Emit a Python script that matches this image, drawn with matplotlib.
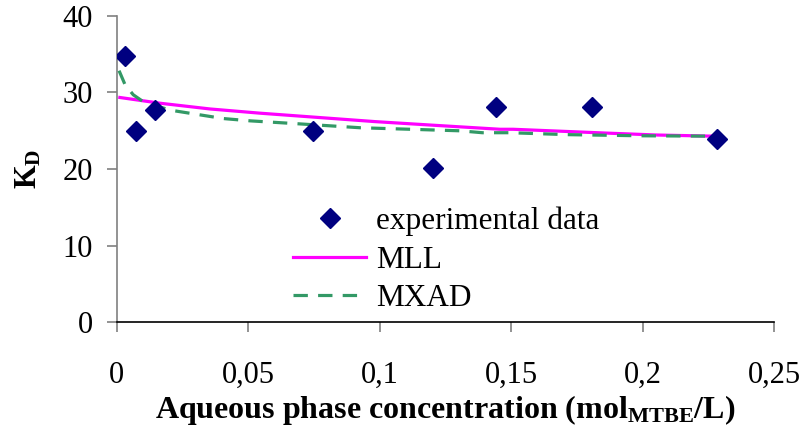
import matplotlib
matplotlib.use("Agg")
import matplotlib.pyplot as plt

plt.rcParams['font.family'] = ['Liberation Serif', 'DejaVu Serif']
plt.rcParams['mathtext.fontset'] = 'custom'
plt.rcParams['mathtext.rm'] = 'Liberation Serif'
plt.rcParams['mathtext.bf'] = 'Liberation Serif:bold'
plt.rcParams['mathtext.it'] = 'Liberation Serif:italic'

# experimental data
exp_x = [0.0032, 0.0073, 0.0147, 0.0748, 0.1204, 0.1442, 0.1806, 0.2282]
exp_y = [34.8, 25.0, 27.7, 25.0, 20.2, 28.1, 28.1, 23.9]

# MLL model
mll_x = [0.0012, 0.0165, 0.0355, 0.0545, 0.0982, 0.1217, 0.1457, 0.1507, 0.1863, 0.2053, 0.2267]
mll_y = [29.35, 28.6, 27.85, 27.3, 26.2, 25.7, 25.2, 25.2, 24.7, 24.45, 24.3]

# MXAD model
mxad_x = [0.0009, 0.0032, 0.0063, 0.0101, 0.0203, 0.0304, 0.0405, 0.0507, 0.0697, 0.0925,
          0.1115, 0.1305, 0.139, 0.1495, 0.1711, 0.199, 0.2267]
mxad_y = [32.85, 31.0, 29.7, 28.8, 27.7, 27.15, 26.6, 26.3, 25.9, 25.4,
          25.2, 25.0, 24.75, 24.75, 24.5, 24.35, 24.3]

xticks = [0, 0.05, 0.1, 0.15, 0.2, 0.25]
xtick_labels = ['0', '0,05', '0,1', '0,15', '0,2', '0,25']
yticks = [0, 10, 20, 30, 40]

fig = plt.figure(figsize=(8.04, 4.28), dpi=100)
ax = fig.add_axes([116.7/804, 1-322.3/428, (774.3-116.7)/804, (322.3-15.9)/428])

ax.plot(mll_x, mll_y, color='#FF00FF', lw=2.3, label='MLL', zorder=2)
ax.plot(mxad_x, mxad_y, color='#339966', lw=2.3, ls=(0, (4.5, 3.2)), label='MXAD', zorder=3)
ax.plot(exp_x, exp_y, ls='none', marker='D', ms=10, color='#000080',
        label='experimental data', zorder=4)

ax.set_xlim(0, 0.25)
ax.set_ylim(0, 40)
ax.set_xticks(xticks)
ax.set_xticklabels(xtick_labels)
ax.set_yticks(yticks)

for s in ['top', 'right']:
    ax.spines[s].set_visible(False)
ax.spines['left'].set_color('#808080')
ax.spines['bottom'].set_color('black')
ax.spines['left'].set_linewidth(1.2)
ax.spines['bottom'].set_linewidth(1.2)

ax.tick_params(axis='x', direction='out', length=7, width=1.2, color='#808080',
               labelsize=22, pad=21)
ax.tick_params(axis='y', direction='out', length=7, width=1.2, color='#808080',
               labelsize=22, pad=10)

ax.set_xlabel(r'Aqueous phase concentration (mol$_{\mathbf{MTBE}}$/L)',
              fontsize=23, fontweight='bold', labelpad=2)
ax.set_ylabel(r'K$_{\mathbf{D}}$', fontsize=22, fontweight='bold', labelpad=14)

handles, labels = ax.get_legend_handles_labels()
order = [2, 0, 1]
leg = ax.legend([handles[i] for i in order], [labels[i] for i in order],
                loc='center left', bbox_to_anchor=(293/804, 1-260/428),
                bbox_transform=fig.transFigure, frameon=False, fontsize=22.5,
                borderpad=0, borderaxespad=0, handlelength=2.35, handletextpad=0.3,
                labelspacing=0.3)

fig.savefig('out.png', dpi=100)
